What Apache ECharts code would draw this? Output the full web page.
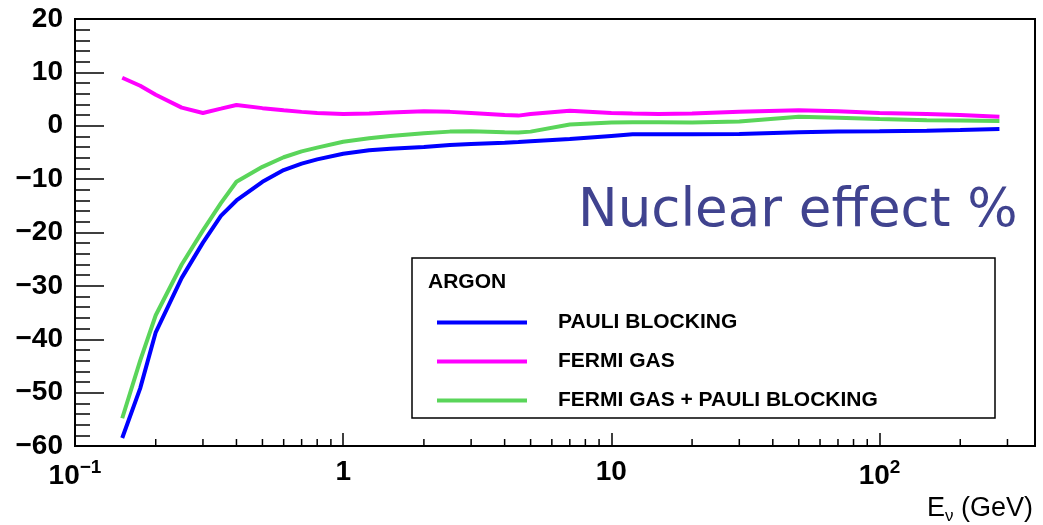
<!DOCTYPE html>
<html>
<head>
<meta charset="utf-8">
<title>Nuclear effect %</title>
<script src="https://cdn.jsdelivr.net/npm/echarts@6/dist/echarts.min.js"></script>
<style>
    html, body { margin: 0; padding: 0; background: #fff; }
    #chart { width: 1043px; height: 525px; }
</style>
</head>
<body>
<div id="chart"></div>
<script>
// neutrino energy (GeV)
const energy = [0.15, 0.175, 0.2, 0.25, 0.3, 0.35, 0.4, 0.5, 0.6, 0.7, 0.8, 1, 1.25, 1.5, 2, 2.5, 3, 4, 4.5, 5, 7, 10, 12, 15, 20, 30, 50, 70, 100, 150, 200, 280]
// nuclear effect in %
const pauliBlocking = [-58.5, -49.2, -38.7, -28.5, -21.9, -16.9, -14.0, -10.5, -8.3, -7.1, -6.3, -5.25, -4.6, -4.3, -4.0, -3.6, -3.4, -3.2, -3.05, -2.9, -2.5, -1.9, -1.6, -1.6, -1.6, -1.55, -1.2, -1.1, -1.05, -0.95, -0.8, -0.6]
const fermiGas = [9.0, 7.5, 5.8, 3.4, 2.4, 3.2, 3.9, 3.3, 2.9, 2.6, 2.4, 2.2, 2.3, 2.5, 2.7, 2.6, 2.4, 2.0, 1.9, 2.2, 2.8, 2.4, 2.3, 2.2, 2.3, 2.6, 2.9, 2.7, 2.4, 2.2, 2.0, 1.7]
const fermiGasPauli = [-54.8, -44.0, -35.5, -26.0, -19.6, -14.5, -10.5, -7.7, -5.9, -4.8, -4.1, -3.0, -2.35, -1.9, -1.4, -1.1, -1.05, -1.2, -1.25, -1.1, 0.25, 0.6, 0.65, 0.65, 0.6, 0.8, 1.7, 1.5, 1.25, 1.05, 1.0, 0.9]
const seriesNames = ['PAULI BLOCKING', 'FERMI GAS', 'FERMI GAS + PAULI BLOCKING']
const seriesColors = ['#0000ff', '#ff00ff', '#5ad55a']
// minor log ticks
const minorTicks = [0.2, 0.3, 0.4, 0.5, 0.6, 0.7, 0.8, 0.9, 2, 3, 4, 5, 6, 7, 8, 9, 20, 30, 40, 50, 60, 70, 80, 90, 200, 300]

const FONT = 'Liberation Sans, Arial, Helvetica, sans-serif'

function pairs(ys) {
    return energy.map((e, i) => [e, ys[i]])
}

const chart = echarts.init(document.getElementById('chart'), null, { renderer: 'canvas' })

chart.setOption({
    animation: false,
    backgroundColor: '#fff',
    grid: {
        left: 75,
        top: 19,
        right: 8,
        bottom: 77,
        show: true,
        borderColor: '#000',
        borderWidth: 2,
        backgroundColor: 'transparent'
    },
    legend: {
        orient: 'vertical',
        left: 432,
        top: 307,
        itemWidth: 90,
        itemHeight: 4,
        itemGap: 18,
        icon: 'rect',
        z: 5,
        data: seriesNames,
        textStyle: {
            fontFamily: FONT,
            fontWeight: 'bold',
            fontSize: 21,
            lineHeight: 20,
            color: '#000',
            padding: [0, 0, 0, 26]
        }
    },
    xAxis: {
        type: 'log',
        logBase: 10,
        min: 0.1,
        max: 380,
        name: '{e|E}{sub|ν}{e| (GeV)}',
        nameLocation: 'end',
        nameGap: -2,
        nameTextStyle: {
            align: 'right',
            verticalAlign: 'top',
            padding: [46, 0, 0, 0],
            rich: {
                e: { fontFamily: FONT, fontSize: 27, color: '#000' },
                sub: { fontFamily: FONT, fontSize: 17, color: '#000', padding: [16, 0, 0, 0] }
            }
        },
        axisLine: { onZero: false, lineStyle: { color: '#000', width: 2 } },
        axisTick: { inside: true, length: 13, lineStyle: { color: '#000', width: 1.5 } },
        splitLine: { show: false },
        axisLabel: {
            margin: 12,
            showMaxLabel: false,
            formatter(v) {
                const p = Math.round(Math.log10(v))
                if (p === 0) return '{b|1}'
                if (p === 1) return '{b|10}'
                return '{b|10}{sup|' + (p < 0 ? '−' + (-p) : p) + '}'
            },
            rich: {
                b: { fontFamily: FONT, fontWeight: 'bold', fontSize: 28, color: '#000' },
                sup: { fontFamily: FONT, fontWeight: 'bold', fontSize: 19, color: '#000', padding: [0, 0, 18, 0] }
            }
        }
    },
    yAxis: {
        type: 'value',
        min: -60,
        max: 20,
        interval: 10,
        axisLine: { show: true, lineStyle: { color: '#000', width: 2 } },
        axisTick: { inside: true, length: 29, lineStyle: { color: '#000', width: 1.5 } },
        minorTick: { show: true, splitNumber: 5, length: 15, lineStyle: { color: '#000', width: 1.5 } },
        splitLine: { show: false },
        axisLabel: {
            margin: 12,
            fontFamily: FONT,
            fontWeight: 'bold',
            fontSize: 28,
            color: '#000',
            formatter(v) {
                return v < 0 ? '−' + (-v) : String(v)
            }
        }
    },
    series: [pauliBlocking, fermiGas, fermiGasPauli].map((ys, i) => ({
        name: seriesNames[i],
        type: 'line',
        smooth: false,
        showSymbol: false,
        color: seriesColors[i],
        lineStyle: { width: 4, color: seriesColors[i] },
        data: pairs(ys)
    }))
})

// legend box, header, title and ROOT-style minor ticks on the log axis
const yBottom = chart.convertToPixel({ yAxisIndex: 0 }, -60)
const graphics = minorTicks.map(v => {
    const x = chart.convertToPixel({ xAxisIndex: 0 }, v)
    return {
        type: 'line',
        shape: { x1: x, y1: yBottom, x2: x, y2: yBottom - 7 },
        style: { stroke: '#000', lineWidth: 1.5 },
        silent: true
    }
})
graphics.push({
    type: 'rect',
    z: 3,
    shape: { x: 412, y: 258, width: 583, height: 160 },
    style: { fill: '#fff', stroke: '#000', lineWidth: 1.5 }
})
graphics.push({
    type: 'text',
    z: 4,
    left: 428,
    top: 272,
    style: { text: 'ARGON', font: 'bold 21px ' + FONT, fill: '#000' }
})
graphics.push({
    type: 'text',
    z: 4,
    left: 578,
    top: 186,
    style: { text: 'Nuclear effect %', font: '53px "DejaVu Sans", sans-serif', fill: '#40438f' }
})
chart.setOption({ graphic: graphics })
</script>
</body>
</html>
